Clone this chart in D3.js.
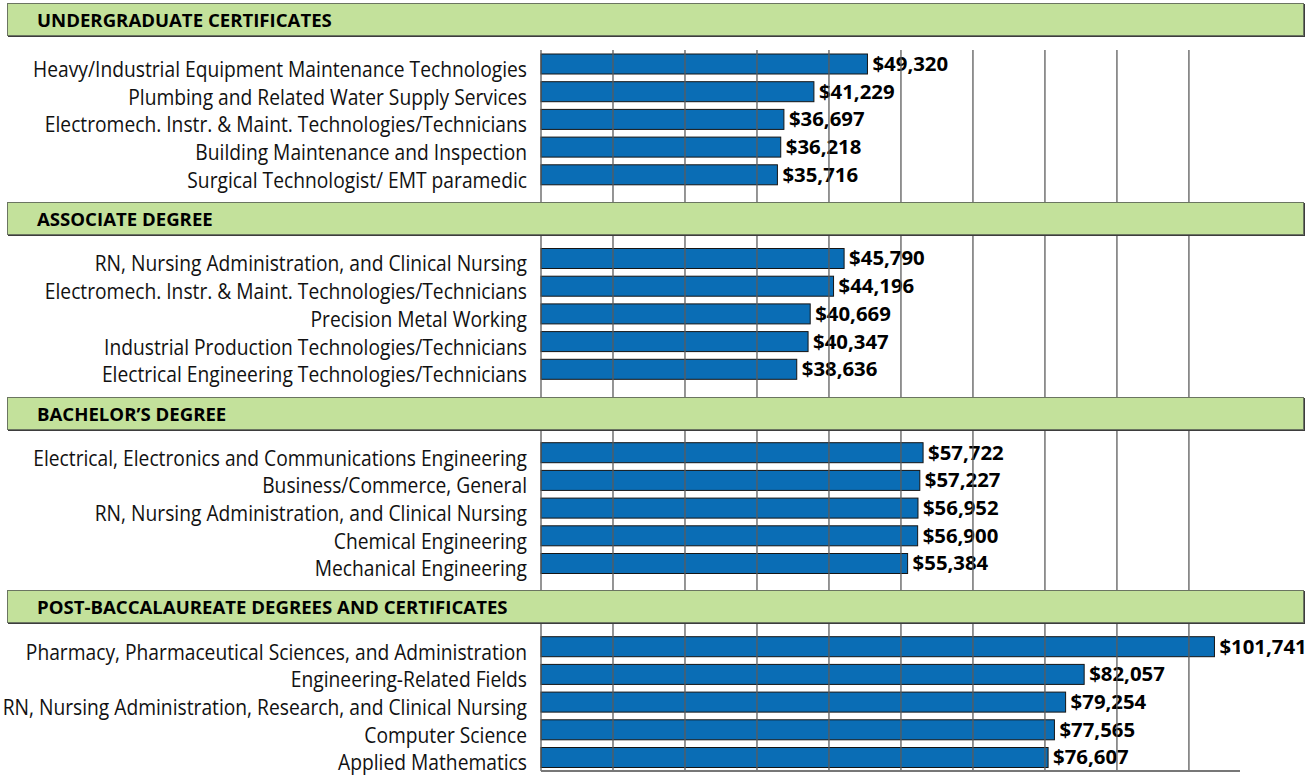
<!DOCTYPE html>
<html lang="en">
<head>
  <meta charset="UTF-8" />
  <title>Earnings by Program</title>
  <script src="https://d3js.org/d3.v7.min.js"></script>
  <style>
    body {
      margin: 0;
      background: #fff;
    }
    svg {
      display: block;
    }
    .cat-label {
      font-family: "Open Sans", sans-serif;
      font-size: 22px;
      fill: #111;
    }
    .val-label {
      font-family: "Open Sans", sans-serif;
      font-weight: 700;
      font-size: 20px;
      fill: #000;
    }
    .head-label {
      font-family: "Open Sans", sans-serif;
      font-weight: 700;
      font-size: 17px;
      fill: #000;
    }
  </style>
</head>
<body>
  <svg id="chart" width="1314" height="776"></svg>

  <script>
    // ---- data ----
    const sectionTitles = [
      "UNDERGRADUATE CERTIFICATES",
      "ASSOCIATE DEGREE",
      "BACHELOR\u2019S DEGREE",
      "POST-BACCALAUREATE DEGREES AND CERTIFICATES"
    ];

    const certLabels = [
      "Heavy/Industrial Equipment Maintenance Technologies",
      "Plumbing and Related Water Supply Services",
      "Electromech. Instr. & Maint. Technologies/Technicians",
      "Building Maintenance and Inspection",
      "Surgical Technologist/ EMT paramedic"
    ];
    const certValues = [49320, 41229, 36697, 36218, 35716];

    const assocLabels = [
      "RN, Nursing Administration, and Clinical Nursing",
      "Electromech. Instr. & Maint. Technologies/Technicians",
      "Precision Metal Working",
      "Industrial Production Technologies/Technicians",
      "Electrical Engineering Technologies/Technicians"
    ];
    const assocValues = [45790, 44196, 40669, 40347, 38636];

    const bachLabels = [
      "Electrical, Electronics and Communications Engineering",
      "Business/Commerce, General",
      "RN, Nursing Administration, and Clinical Nursing",
      "Chemical Engineering",
      "Mechanical Engineering"
    ];
    const bachValues = [57722, 57227, 56952, 56900, 55384];

    const postLabels = [
      "Pharmacy, Pharmaceutical Sciences, and Administration",
      "Engineering-Related Fields",
      "RN, Nursing Administration, Research, and Clinical Nursing",
      "Computer Science",
      "Applied Mathematics"
    ];
    const postValues = [101741, 82057, 79254, 77565, 76607];

    const xMax = 105600;      // end of the value axis
    const gridStep = 10876;   // spacing of the vertical gridlines
    const gridCount = 10;

    // ---- layout ----
    const svg = d3.select("#chart");
    const headerTops = [3, 202, 397, 590];
    const headerH = 33;
    const plotTops = [50, 235, 430, 624];
    const plotBottoms = [202, 397, 590, 771];
    const firstBarTops = [54, 248.5, 442.7, 636.7];
    const step = 27.7;
    const labelRight = 527;

    const x = d3.scaleLinear().domain([0, xMax]).range([541, 1240]);
    const gridValues = d3.range(gridCount).map(i => i * gridStep);
    const fmt = d3.format("$,");

    const sectionData = [
      { labels: certLabels, values: certValues },
      { labels: assocLabels, values: assocValues },
      { labels: bachLabels, values: bachValues },
      { labels: postLabels, values: postValues }
    ];

    // measure text so that widths follow the reference's narrow typeface
    function measure(cls, str) {
      const t = svg.append("text").attr("class", cls).text(str);
      const w = t.node().getComputedTextLength();
      t.remove();
      return w;
    }
    const catK = 494 / measure("cat-label", certLabels[0]);
    const valK = 75.7 / measure("val-label", fmt(postValues[2]));
    const headK = 295 / measure("head-label", sectionTitles[0]);

    const barLayer = svg.append("g");
    const gridLayer = svg.append("g");

    sectionTitles.forEach((title, i) => {
      const top = headerTops[i];

      // header band
      svg.append("rect")
        .attr("x", 8).attr("y", top + 1)
        .attr("width", 1297).attr("height", headerH)
        .attr("fill", "#3d3d3d");
      svg.append("rect")
        .attr("x", 7.5).attr("y", top + 0.5)
        .attr("width", 1296).attr("height", headerH - 1)
        .attr("fill", "#c3e19b")
        .attr("stroke", "#6b7561")
        .attr("stroke-width", 1);
      svg.append("text")
        .attr("class", "head-label")
        .attr("transform", `translate(37,${top + 24}) scale(${headK},1)`)
        .text(title);

      const { labels, values } = sectionData[i];
      const bandStart = firstBarTops[i] - 0.139 * step;
      const y = d3.scaleBand()
        .domain(labels)
        .range([bandStart, bandStart + labels.length * step])
        .paddingInner(0.278)
        .paddingOuter(0.139);

      const rows = labels.map((l, j) => ({ label: l, value: values[j] }));
      const g = barLayer.append("g");

      g.selectAll("rect")
        .data(rows)
        .join("rect")
        .attr("x", x(0))
        .attr("y", d => y(d.label))
        .attr("width", d => x(d.value) - x(0))
        .attr("height", y.bandwidth())
        .attr("fill", "#0a6db5")
        .attr("stroke", "#151515")
        .attr("stroke-width", 1);

      g.selectAll(".cat-label")
        .data(rows)
        .join("text")
        .attr("class", "cat-label")
        .attr("text-anchor", "end")
        .attr("transform", d => `translate(${labelRight},${y(d.label) + y.bandwidth() / 2 + 13}) scale(${catK},1)`)
        .text(d => d.label);

      g.selectAll(".val-label")
        .data(rows)
        .join("text")
        .attr("class", "val-label")
        .attr("transform", d => `translate(${x(d.value) + 5},${y(d.label) + y.bandwidth() / 2 + 7}) scale(${valK},1)`)
        .text(d => fmt(d.value));

      // vertical gridlines sit on top of bars and labels
      gridLayer.append("g")
        .selectAll("line")
        .data(gridValues)
        .join("line")
        .attr("x1", d => x(d)).attr("x2", d => x(d))
        .attr("y1", plotTops[i])
        .attr("y2", plotBottoms[i])
        .attr("stroke", "#5c5c5c")
        .attr("stroke-width", 1.3);
    });

    // bottom axis line
    svg.append("line")
      .attr("x1", x(0)).attr("x2", x(xMax))
      .attr("y1", plotBottoms[3]).attr("y2", plotBottoms[3])
      .attr("stroke", "#777")
      .attr("stroke-width", 2);
  </script>
</body>
</html>
